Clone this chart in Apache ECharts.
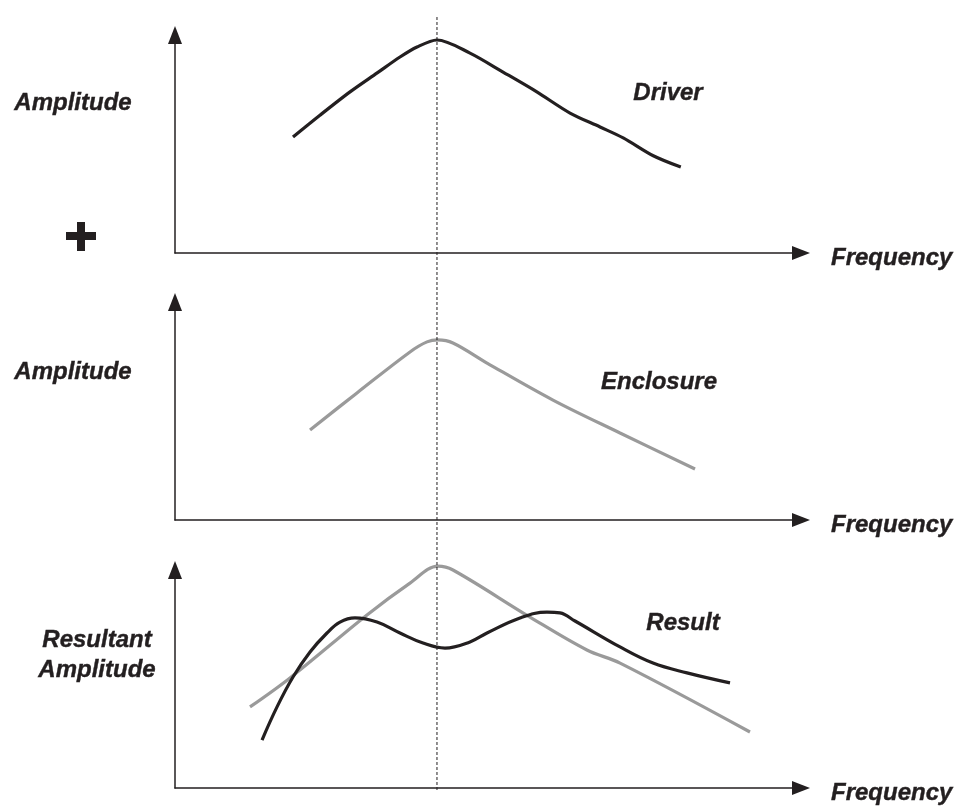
<!DOCTYPE html>
<html>
<head>
<meta charset="utf-8">
<script src="https://cdn.jsdelivr.net/npm/echarts@6/dist/echarts.min.js"></script>
<style>html,body{margin:0;padding:0;background:#fff;}#main{width:963px;height:810px;}</style>
</head>
<body>
<div id="main"></div>
<script>
// ---- data (frequency 0..100 along x, amplitude 0..100 along y) ----
const driverX = [18.85, 23.2, 27.96, 32.3, 35.94, 38.66, 41.85, 47.12, 52.4, 57.8, 63.1, 67.9, 71.6, 76.4, 80.8];
const driverY = [53.2, 63.3, 73.9, 82.6, 89.9, 94.5, 97.7, 91.7, 83.0, 73.9, 64.2, 57.8, 52.8, 44.6, 39.4];

const enclosureX = [21.57, 29.07, 37.54, 40.26, 42.0, 44.4, 49.84, 60.38, 71.09, 83.07];
const enclosureY = [41.3, 58.3, 77.1, 81.7, 82.6, 81.2, 72.0, 55.0, 39.9, 23.4];

const resultEnclosureX = [11.98, 18.37, 30.67, 37.54, 42.0, 44.4, 56.7, 65.8, 71.1, 91.85];
const resultEnclosureY = [37.2, 50.5, 79.4, 94.0, 101.8, 100, 78.4, 63.3, 57.3, 25.7];

const resultX = [13.9, 16.3, 18.85, 21.57, 24.28, 26.36, 28.75, 32.27, 35.94, 39.62, 43.13, 47.12, 49.84, 55.11, 59.42, 61.5, 63.9, 71.09, 76.36, 81.79, 88.66];
const resultY = [22.0, 37.2, 50.9, 62.4, 71.1, 76.1, 78.0, 76.1, 71.1, 66.5, 64.2, 67.0, 71.1, 78.0, 80.7, 80.3, 76.6, 64.7, 57.3, 52.8, 48.2];

const resonanceX = 41.85;

const xAxisName = 'Frequency';
const yLabels = ['Amplitude', 'Amplitude', 'Resultant\nAmplitude'];
const curveLabels = ['Driver', 'Enclosure', 'Result'];

const zip = (xs, ys) => xs.map((x, i) => [x, ys[i]]);

const FONT = '"Liberation Sans", Arial, sans-serif';
const INK = '#231f20';
const GRAY = '#9a9a9a';

const gridTops = [35, 302, 570];
const grids = gridTops.map(t => ({ left: 175, width: 626, top: t, height: 218 }));
grids.push({ left: 175, width: 626, top: 15, height: 775 });

const axisLineStyle = { show: true, symbol: ['none', 'triangle'], symbolSize: [14, 18], lineStyle: { color: INK, width: 1.5 } };

const xAxes = [0, 1, 2].map(i => ({
  type: 'value', gridIndex: i, min: 0, max: 100,
  axisLine: axisLineStyle, axisTick: { show: false }, axisLabel: { show: false }, splitLine: { show: false }
}));
xAxes.push({ type: 'value', gridIndex: 3, min: 0, max: 100, show: false });

const yAxes = [0, 1, 2].map(i => ({
  type: 'value', gridIndex: i, min: 0, max: 100,
  axisLine: axisLineStyle, axisTick: { show: false }, axisLabel: { show: false }, splitLine: { show: false }
}));
yAxes.push({ type: 'value', gridIndex: 3, min: 0, max: 1, show: false });

const lineSeries = (data, idx, color, smooth) => ({
  type: 'line', xAxisIndex: idx, yAxisIndex: idx, data, smooth, symbol: 'none', clip: false,
  lineStyle: { color, width: 3.2 }, silent: true
});

const textEl = (text, x, y, align) => ({
  type: 'text', x, y,
  style: { text, fill: INK, stroke: INK, lineWidth: 0.4, font: 'italic bold 24px ' + FONT, align: align || 'center', verticalAlign: 'middle', lineHeight: 30 }
});

const option = {
  backgroundColor: '#ffffff',
  animation: false,
  grid: grids,
  xAxis: xAxes,
  yAxis: yAxes,
  series: [
    lineSeries(zip(driverX, driverY), 0, INK, 0.3),
    lineSeries(zip(enclosureX, enclosureY), 1, GRAY, 0.35),
    lineSeries(zip(resultEnclosureX, resultEnclosureY), 2, GRAY, 0.35),
    lineSeries(zip(resultX, resultY), 2, INK, 0.4),
    {
      type: 'line', xAxisIndex: 3, yAxisIndex: 3, data: [[resonanceX, 0], [resonanceX, 1]],
      symbol: 'none', lineStyle: { color: INK, width: 1, type: [3, 2] }, silent: true
    }
  ],
  graphic: [
    textEl(yLabels[0], 73, 103),
    textEl(yLabels[1], 73, 372),
    textEl(yLabels[2], 97, 655),
    textEl(curveLabels[0], 668, 93),
    textEl(curveLabels[1], 659, 382),
    textEl(curveLabels[2], 683, 623),
    textEl(xAxisName, 831, 258, 'left'),
    textEl(xAxisName, 831, 525, 'left'),
    textEl(xAxisName, 831, 793, 'left'),
    { type: 'rect', shape: { x: 66, y: 232, width: 30, height: 8 }, style: { fill: INK } },
    { type: 'rect', shape: { x: 77, y: 222, width: 8, height: 29 }, style: { fill: INK } }
  ]
};

const chart = echarts.init(document.getElementById('main'), null, { renderer: 'canvas' });
chart.setOption(option);
</script>
</body>
</html>
